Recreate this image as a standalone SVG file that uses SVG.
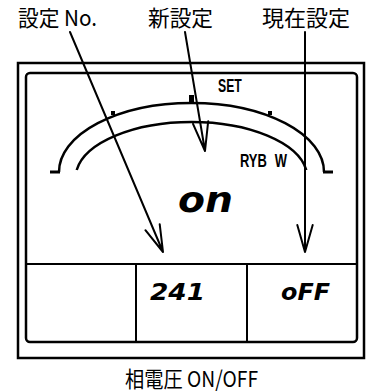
<svg xmlns="http://www.w3.org/2000/svg" width="375" height="392" viewBox="0 0 375 392">
<style>
.frame{fill:none;stroke:#000;stroke-width:2.5}
.thin{fill:none;stroke:#000;stroke-width:2}
.arr{fill:none;stroke:#000;stroke-width:2;stroke-linecap:round;stroke-linejoin:round}
.jp{font-family:"Noto Sans CJK JP","Noto Sans",sans-serif;font-size:22px;fill:#000}
.lcd{font-family:"Liberation Sans",Arial,sans-serif;font-weight:bold;font-size:18px;fill:#000}
.seg{font-family:"DejaVu Sans",sans-serif;font-weight:bold;font-style:italic;fill:#000}
</style>
<rect width="375" height="392" fill="#fff"/>
<g id="labels">
<text class="jp" x="18" y="26" textLength="79" lengthAdjust="spacingAndGlyphs">設定 No.</text>
<text class="jp" x="148" y="26" textLength="65" lengthAdjust="spacingAndGlyphs">新設定</text>
<text class="jp" x="262" y="26" textLength="88" lengthAdjust="spacingAndGlyphs">現在設定</text>
<text class="jp" x="125" y="387" textLength="133" lengthAdjust="spacingAndGlyphs">相電圧 ON/OFF</text>
</g>
<g id="display">
<rect class="frame" x="18" y="63" width="346" height="295"/>
<rect class="frame" x="26" y="73" width="331" height="269" rx="4"/>
<line class="thin" x1="26" y1="264" x2="357" y2="264"/>
<line class="thin" x1="136" y1="264" x2="136" y2="342"/>
<line class="thin" x1="247" y1="264" x2="247" y2="342"/>
<path class="frame" d="M59 172 A132.5 69 0 0 1 324 172"/>
<path class="frame" d="M76.7 170 A116 56 0 0 1 306.3 170"/>
<line x1="50" y1="172" x2="60" y2="172" stroke="#000" stroke-width="3"/>
<line x1="323" y1="172" x2="333" y2="172" stroke="#000" stroke-width="3"/>
<rect x="189" y="95" width="5" height="8" fill="#000"/>
<rect x="111" y="111" width="4" height="4" fill="#000"/>
<rect x="268" y="111" width="4" height="4" fill="#000"/>
<text class="lcd" transform="translate(218 92) scale(0.68 1)">SET</text>
<text class="lcd" transform="translate(240 167) scale(0.72 1)" word-spacing="6">RYB W</text>
<text class="seg" x="178" y="212" font-size="36" textLength="55" lengthAdjust="spacingAndGlyphs">on</text>
<text class="seg" x="150" y="300" font-size="23" textLength="55" lengthAdjust="spacingAndGlyphs">241</text>
<text class="seg" x="281" y="300" font-size="23" textLength="49" lengthAdjust="spacingAndGlyphs">oFF</text>
</g>
<g id="connectors">
<path class="arr" d="M70 32 L163 252 M145.4 230.2 L163 252 L159.7 224.2"/>
<path class="arr" d="M185 32 L205 151 M193 123.8 L205 151 L208.2 121.2"/>
<path class="arr" d="M305 32 L305 252 M297.3 225 L305 252 L312.7 225"/>
</g>
</svg>
